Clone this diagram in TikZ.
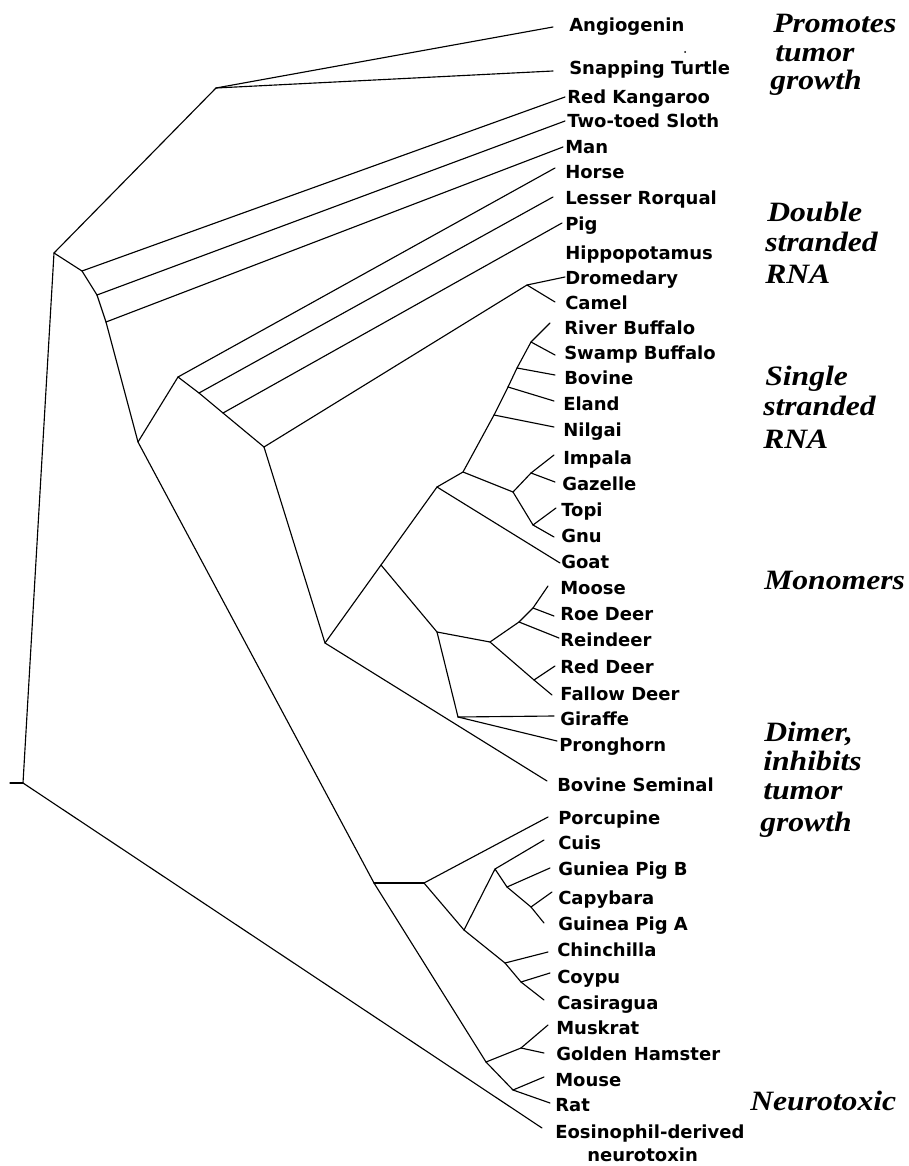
\documentclass[tikz,border=0pt]{standalone}
\usepackage{fontspec}
\newfontfamily\leaffont{DejaVu Sans}
\newfontfamily\groupfont[FakeStretch=1.13]{Liberation Serif}
\begin{document}
\begin{tikzpicture}[x=0.75pt,y=-0.75pt,
  branch/.style={line width=0.85pt,line join=round,line cap=round},
  leaf/.style={anchor=base west,inner sep=0pt,font=\leaffont\bfseries\fontsize{13.5}{16}\selectfont},
  group/.style={anchor=base west,inner sep=0pt,font=\groupfont\bfseries\itshape\fontsize{21}{24}\selectfont}]
\useasboundingbox (0,0) rectangle (908,1166);

% ---------- leaf labels ----------
\node[leaf] (angio)   at (569,32)   {Angiogenin};
\node[leaf] (turtle)  at (569,75)   {Snapping Turtle};
\node[leaf] (kang)    at (567,104)  {Red Kangaroo};
\node[leaf] (sloth)   at (567,128)  {Two-toed Sloth};
\node[leaf] (man)     at (565,154)  {Man};
\node[leaf] (horse)   at (565,179)  {Horse};
\node[leaf] (rorq)    at (565,205)  {Lesser Rorqual};
\node[leaf] (pig)     at (565,231)  {Pig};
\node[leaf] (hippo)   at (565,259)  {Hippopotamus};
\node[leaf] (drom)    at (565,284)  {Dromedary};
\node[leaf] (camel)   at (565,309)  {Camel};
\node[leaf] (river)   at (564,334)  {River Buffalo};
\node[leaf] (swamp)   at (564,359)  {Swamp Buffalo};
\node[leaf] (bovine)  at (564,384)  {Bovine};
\node[leaf] (eland)   at (563,410)  {Eland};
\node[leaf] (nilgai)  at (563,436)  {Nilgai};
\node[leaf] (impala)  at (563,464)  {Impala};
\node[leaf] (gazelle) at (562,490)  {Gazelle};
\node[leaf] (topi)    at (561,516)  {Topi};
\node[leaf] (gnu)     at (561,542)  {Gnu};
\node[leaf] (goat)    at (561,568)  {Goat};
\node[leaf] (moose)   at (560,594)  {Moose};
\node[leaf] (roe)     at (560,620)  {Roe Deer};
\node[leaf] (rein)    at (560,646)  {Reindeer};
\node[leaf] (reddeer) at (560,673)  {Red Deer};
\node[leaf] (fallow)  at (560,700)  {Fallow Deer};
\node[leaf] (giraffe) at (560,725)  {Giraffe};
\node[leaf] (prong)   at (559,751)  {Pronghorn};
\node[leaf] (seminal) at (557,791)  {Bovine Seminal};
\node[leaf] (porc)    at (558,824)  {Porcupine};
\node[leaf] (cuis)    at (558,849)  {Cuis};
\node[leaf] (guinB)   at (558,875)  {Guniea Pig B};
\node[leaf] (capy)    at (558,904)  {Capybara};
\node[leaf] (guinA)   at (558,930)  {Guinea Pig A};
\node[leaf] (chin)    at (557,956)  {Chinchilla};
\node[leaf] (coypu)   at (557,983)  {Coypu};
\node[leaf] (casi)    at (557,1009) {Casiragua};
\node[leaf] (musk)    at (556,1034) {Muskrat};
\node[leaf] (hamster) at (556,1060) {Golden Hamster};
\node[leaf] (mouse)   at (555,1086) {Mouse};
\node[leaf] (rat)     at (555,1111) {Rat};
\node[leaf] (eos)     at (555,1138) {Eosinophil-derived};
\node[leaf] (eosb)    at (587,1161) {neurotoxin};
\fill (685,52) circle (1);

% ---------- group labels ----------
\node[group] (g1a) at (773,33)   {Promotes};
\node[group] (g1b) at (775,62)   {tumor};
\node[group] (g1c) at (770,90)   {growth};
\node[group] (g2a) at (767,222)  {Double};
\node[group] (g2b) at (765,252)  {stranded};
\node[group] (g2c) at (765,283)  {RNA};
\node[group] (g3a) at (765,385)  {Single};
\node[group] (g3b) at (763,415)  {stranded};
\node[group] (g3c) at (763,448)  {RNA};
\node[group] (g4)  at (764,589)  {Monomers};
\node[group] (g5a) at (764,741)  {Dimer,};
\node[group] (g5b) at (763,770)  {inhibits};
\node[group] (g5c) at (763,799)  {tumor};
\node[group] (g5d) at (760,831)  {growth};
\node[group] (g6)  at (750,1110) {Neurotoxic};

% ---------- branch tips ----------
\coordinate (angio-e)   at (553,27);
\coordinate (turtle-e)  at (553,71);
\coordinate (kang-e)    at (565,97);
\coordinate (sloth-e)   at (565,121);
\coordinate (man-e)     at (563,147);
\coordinate (horse-e)   at (555,168);
\coordinate (rorq-e)    at (553,197);
\coordinate (pig-e)     at (562,223);
\coordinate (drom-e)    at (565,277);
\coordinate (camel-e)   at (555,302);
\coordinate (river-e)   at (550,323);
\coordinate (swamp-e)   at (555,355);
\coordinate (bovine-e)  at (555,375);
\coordinate (eland-e)   at (554,401);
\coordinate (nilgai-e)  at (554,427);
\coordinate (impala-e)  at (554,455);
\coordinate (gazelle-e) at (555,482);
\coordinate (topi-e)    at (556,508);
\coordinate (gnu-e)     at (554,537);
\coordinate (goat-e)    at (560,563);
\coordinate (moose-e)   at (548,586);
\coordinate (roe-e)     at (554,616);
\coordinate (rein-e)    at (559,638);
\coordinate (reddeer-e) at (555,666);
\coordinate (fallow-e)  at (552,695);
\coordinate (giraffe-e) at (554,716);
\coordinate (prong-e)   at (557,741);
\coordinate (seminal-e) at (547,781);
\coordinate (porc-e)    at (548,817);
\coordinate (cuis-e)    at (544,840);
\coordinate (guinB-e)   at (550,868);
\coordinate (capy-e)    at (552,892);
\coordinate (guinA-e)   at (544,923);
\coordinate (chin-e)    at (548,952);
\coordinate (coypu-e)   at (550,973);
\coordinate (casi-e)    at (544,1000);
\coordinate (musk-e)    at (548,1025);
\coordinate (hamster-e) at (544,1053);
\coordinate (mouse-e)   at (544,1077);
\coordinate (rat-e)     at (550,1103);
\coordinate (eos-e)     at (542,1128);

% ---------- internal nodes ----------
\coordinate (rtip) at (10,783);
\coordinate (R)  at (23,783);
\coordinate (A)  at (54,253);
\coordinate (B)  at (216,88);
\coordinate (C)  at (82,271);
\coordinate (D)  at (97,295);
\coordinate (E)  at (106,322);
\coordinate (F)  at (138,442);
\coordinate (G)  at (178,377);
\coordinate (G2) at (199,393);
\coordinate (G3) at (223,413);
\coordinate (G4) at (264,447);
\coordinate (K)  at (527,285);
\coordinate (G5) at (325,643);
\coordinate (G6) at (381,565);
\coordinate (G7) at (437,487);
\coordinate (G9) at (463,472);
\coordinate (N1) at (494,415);
\coordinate (N2) at (508,387);
\coordinate (N3) at (517,368);
\coordinate (N4) at (531,342);
\coordinate (T)  at (513,492);
\coordinate (T1) at (531,473);
\coordinate (T2) at (533,525);
\coordinate (G8) at (437,632);
\coordinate (D1) at (490,642);
\coordinate (D2) at (519,622);
\coordinate (D4) at (533,608);
\coordinate (D3) at (534,680);
\coordinate (GP) at (458,717);
\coordinate (H)  at (374,883);
\coordinate (H2) at (424,883);
\coordinate (H3) at (486,1062);
\coordinate (H4) at (464,930);
\coordinate (H5) at (495,869);
\coordinate (H7) at (507,887);
\coordinate (H8) at (531,907);
\coordinate (H6) at (505,963);
\coordinate (H9) at (521,982);
\coordinate (MH) at (521,1048);
\coordinate (MR) at (513,1090);

% ---------- branches ----------
\foreach \u/\v in {rtip/R, R/A, R/eos-e,
  A/B, B/angio-e, B/turtle-e,
  A/C, C/kang-e, C/D, D/sloth-e, D/E, E/man-e, E/F,
  F/G, G/horse-e, G/G2, G2/rorq-e, G2/G3, G3/pig-e, G3/G4,
  G4/K, K/drom-e, K/camel-e, G4/G5, G5/seminal-e, G5/G6,
  G6/G7, G7/goat-e, G7/G9, G9/N1, N1/nilgai-e, N1/N2, N2/eland-e,
  N2/N3, N3/bovine-e, N3/N4, N4/river-e, N4/swamp-e,
  G9/T, T/T1, T1/impala-e, T1/gazelle-e, T/T2, T2/topi-e, T2/gnu-e,
  G6/G8, G8/D1, D1/D2, D2/rein-e, D2/D4, D4/moose-e, D4/roe-e,
  D1/D3, D3/reddeer-e, D3/fallow-e, G8/GP, GP/giraffe-e, GP/prong-e,
  F/H, H/H2, H2/porc-e, H2/H4, H4/H5, H5/cuis-e, H5/H7, H7/guinB-e,
  H7/H8, H8/capy-e, H8/guinA-e, H4/H6, H6/chin-e, H6/H9, H9/coypu-e,
  H9/casi-e, H/H3, H3/MH, MH/musk-e, MH/hamster-e, H3/MR, MR/mouse-e,
  MR/rat-e}
  \draw[branch] (\u) -- (\v);
\end{tikzpicture}
\end{document}
